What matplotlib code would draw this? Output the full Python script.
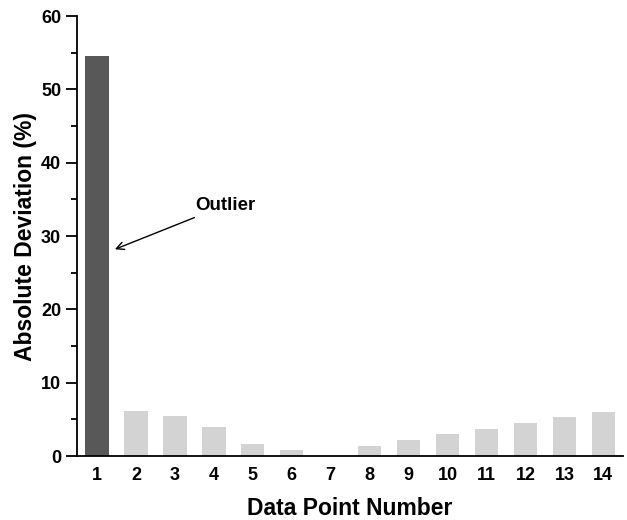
import numpy as np
import matplotlib.pyplot as plt
from matplotlib.ticker import MultipleLocator

plt.rcParams['font.family'] = ['Liberation Sans', 'DejaVu Sans']
plt.rcParams['font.weight'] = 'bold'

# data
points = np.arange(1, 15)
deviation = [54.6, 6.2, 5.45, 3.9, 1.64, 0.86, 0.0, 1.4, 2.14, 2.95, 3.73, 4.5, 5.27, 6.0]
colors = ['#585858'] + ['#d3d3d3'] * 13

fig = plt.figure(figsize=(6.27, 5.2), dpi=100)
ax = fig.add_axes([0.123, 0.123, 0.871, 0.846])

ax.bar(points, deviation, width=0.6, color=colors)

ax.set_xlim(0.49, 14.51)
ax.set_ylim(0, 60)
ax.set_xticks(points)
ax.yaxis.set_major_locator(MultipleLocator(10))
ax.yaxis.set_minor_locator(MultipleLocator(5))

ax.spines['top'].set_visible(False)
ax.spines['right'].set_visible(False)
ax.spines['left'].set_linewidth(1.3)
ax.spines['bottom'].set_linewidth(1.3)

ax.tick_params(axis='x', length=0, pad=8, labelsize=13)
ax.tick_params(axis='y', which='major', direction='out', length=8, width=1.3, labelsize=13)
ax.tick_params(axis='y', which='minor', direction='out', length=4, width=1.3)

ax.set_xlabel('Data Point Number', fontsize=16.5, fontweight='bold', labelpad=9)
ax.set_ylabel('Absolute Deviation (%)', fontsize=16.5, fontweight='bold', labelpad=3)

ax.annotate('Outlier', xy=(1.46, 28.2), xytext=(3.52, 34.2),
            fontsize=13.5, fontweight='bold', va='center', ha='left',
            arrowprops=dict(arrowstyle='->', color='black', lw=1,
                            shrinkA=2, shrinkB=0))

fig.savefig('out.png', dpi=100)
